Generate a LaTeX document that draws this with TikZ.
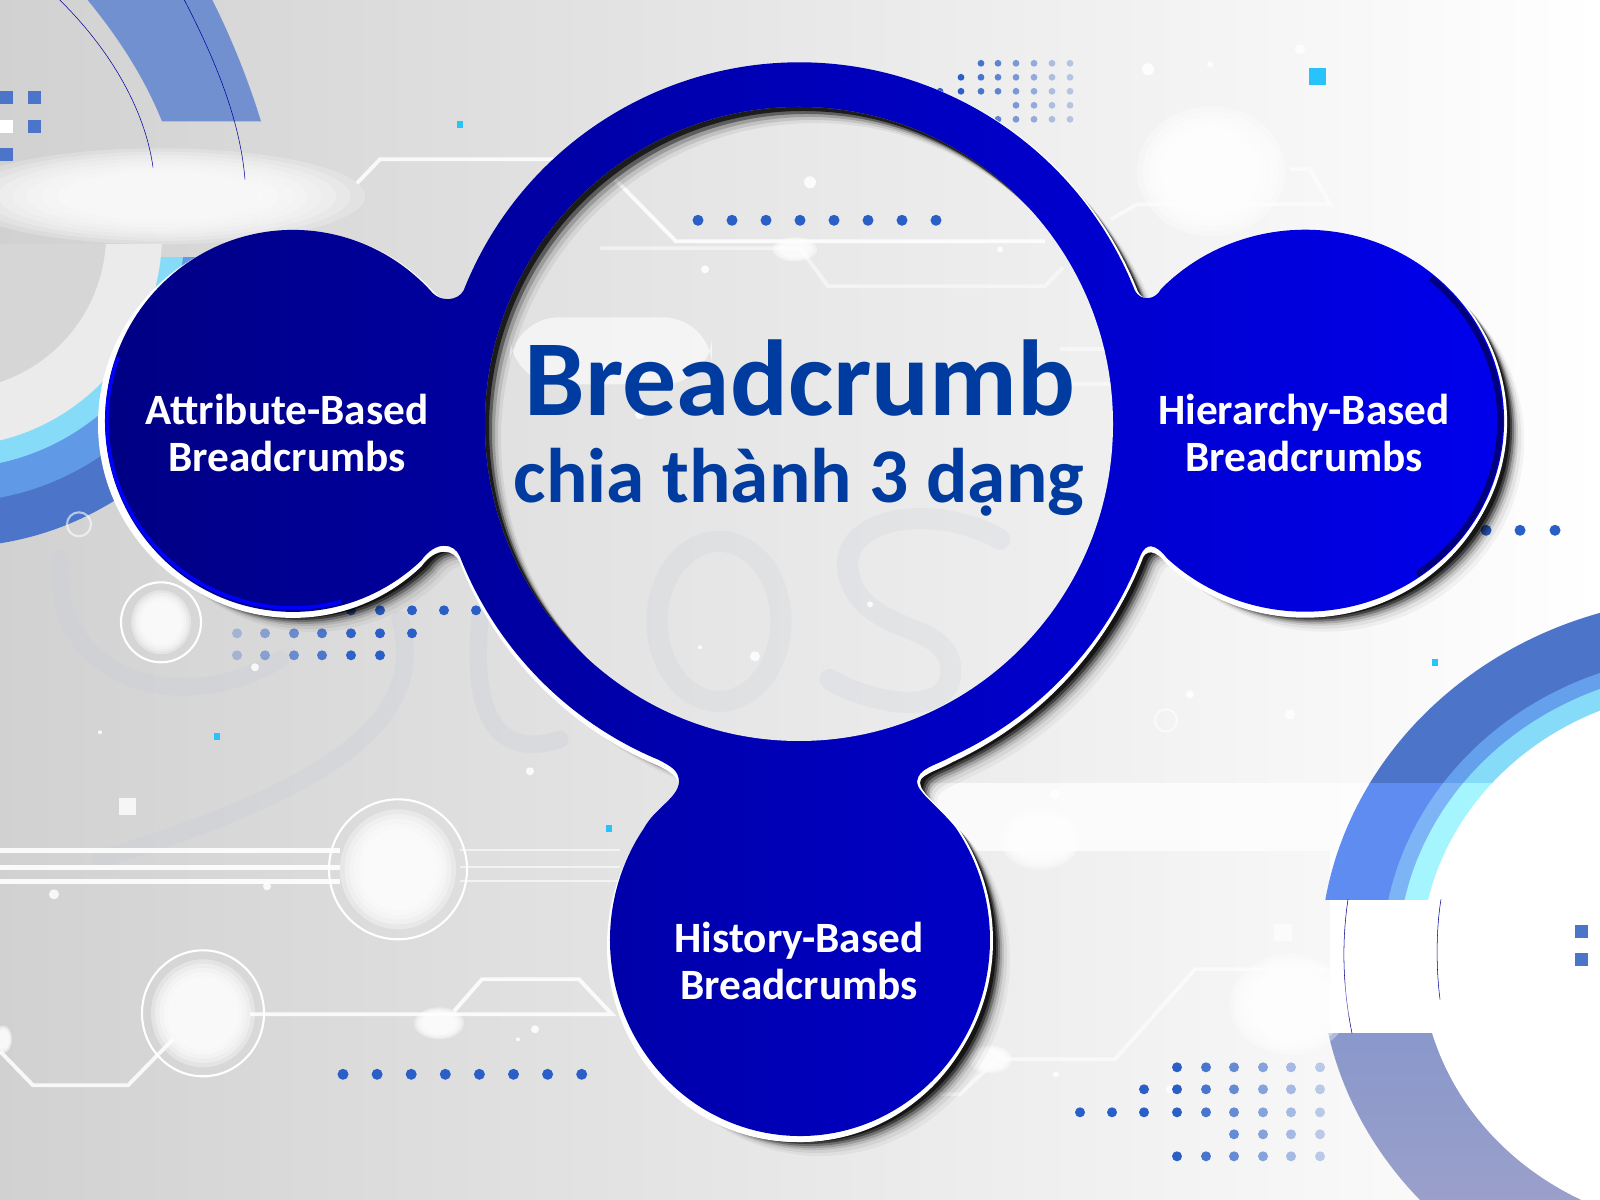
\documentclass[tikz,border=0pt]{standalone}
\usepackage{fontspec}
\setmainfont{Carlito}
\definecolor{dotblue}{RGB}{42,95,200}
\definecolor{titleblue}{RGB}{0,60,160}
\definecolor{cyansq}{RGB}{40,195,250}
\definecolor{bandblue}{RGB}{76,116,200}
\definecolor{bandmid}{RGB}{100,160,235}
\definecolor{bandcyan}{RGB}{134,220,248}
\definecolor{bandlite}{RGB}{95,140,240}
\definecolor{midlite}{RGB}{125,180,245}
\definecolor{cyanlite}{RGB}{165,245,255}
\definecolor{swirl}{RGB}{200,205,215}
\definecolor{rimdark}{RGB}{0,0,125}
\tikzset{
  circuit/.style={white,line width=1.1pt,opacity=.85},
  ringline/.style={white,line width=.6pt},
  label/.style={white,font=\bfseries\fontsize{12.3}{13.4}\selectfont,align=center},
  speck/.style={white,opacity=.85},
  thinarc/.style={draw=blue!60!black,line width=.15pt},
}
\def\blobpath{(463.6,909.5) arc[start angle=158.4,end angle=21.6,radius=361]
  .. controls (1140,899) and (1155,899) .. (1161,911)
  arc[start angle=136.4,end angle=-134,x radius=199,y radius=191]
  .. controls (1155,657) and (1146,657) .. (1140.7,645)
  arc[start angle=-21,end angle=-65.2,radius=366]
  .. controls (935,434) and (918,432) .. (917,418)
  .. controls (917,408) and (940,392) .. (955.8,372.1)
  arc[start angle=34.9,end angle=-214.9,x radius=190,y radius=196]
  .. controls (655,392) and (678,402) .. (679,418)
  .. controls (679,430) and (670,434) .. (659,440)
  arc[start angle=-112.6,end angle=-158.7,radius=364]
  .. controls (454,657) and (436,660) .. (421.2,639.4)
  arc[start angle=-47,end angle=-318,x radius=188,y radius=191]
  .. controls (441,898) and (458,899) .. cycle}
\begin{document}
\begin{tikzpicture}[x=0.01cm,y=0.01cm]
  \useasboundingbox (0,0) rectangle (1600,1200);
  \begin{scope}[y=-0.01cm,yshift=12cm]
    \shade[left color=black!18,middle color=black!11,right color=white] (0,0) rectangle (1600,1200);
    \fill[white,opacity=.75] (930,784) rectangle (1600,852);
    \fill[white] (1330,852) rectangle (1600,1034);
    % faint swirls
    \foreach \p in {{(60,560) .. controls (50,680) and (180,720) .. (280,660)},
        {(400,620) .. controls (430,720) and (330,790) .. (100,860)},
        {(480,620) .. controls (470,720) and (500,760) .. (560,740)}}
      \draw[swirl,line width=5pt,opacity=.3,line cap=round] \p;
    % rings top left
    \begin{scope}
      \clip (-100,258) rectangle (300,700);
      \fill[bandblue] (-50,235) circle (313);
      \fill[bandmid!85!bandblue] (-50,235) circle (268);
      \fill[bandcyan] (-50,235) circle (234);
    \end{scope}
    \begin{scope}
      \clip (-100,245) rectangle (300,700);
      \fill[white!92!black] (-50,235) circle (212);
      \fill[black!16] (-50,235) circle (156);
    \end{scope}
    \fill[bandblue!85!white,opacity=.9] (87,0) .. controls (120,40) and (145,80) .. (162,122)
      -- (261,122) .. controls (248,80) and (232,40) .. (212,0) -- cycle;
    \foreach \r in {1,.93,.86,.79,.72,.65,.58,.5}
      \fill[white,opacity=.22] (160,197) ellipse [x radius=205*\r,y radius=48*\r];
    \draw[thinarc] (59,0) .. controls (110,50) and (145,110) .. (153,168);
    \draw[thinarc] (184,0) .. controls (215,60) and (240,120) .. (245,180);
    % rings bottom right
    \begin{scope}
      \clip (1300,600) rectangle (1600,784);
      \fill[bandblue] (1715,960) ellipse [x radius=395,y radius=362];
      \fill[bandmid] (1715,960) ellipse [x radius=333,y radius=305];
      \fill[bandcyan] (1715,960) ellipse [x radius=317,y radius=290];
    \end{scope}
    \begin{scope}
      \clip (1300,784) rectangle (1600,900);
      \fill[bandlite] (1715,960) ellipse [x radius=395,y radius=362];
      \fill[midlite] (1715,960) ellipse [x radius=333,y radius=305];
      \fill[cyanlite] (1715,960) ellipse [x radius=317,y radius=290];
    \end{scope}
    \begin{scope}
      \clip (1300,1034) rectangle (1600,1200);
      \shade[top color=bandblue!90,bottom color=blue!40!black!35!white] (1715,960) ellipse [x radius=395,y radius=362];
    \end{scope}
    \fill[white] (1715,960) ellipse [x radius=294,y radius=270];
    \draw[thinarc] (1348,900) .. controls (1342,940) and (1342,985) .. (1352,1034);
    \draw[thinarc] (1441,900) .. controls (1436,930) and (1436,970) .. (1440,1000);
    % circuit lines
    \draw[circuit] (357,184) -- (380,160) -- (560,160);
    \draw[circuit,opacity=.6] (1111,220) -- (1137,205) -- (1330,205) -- (1310,170) -- (1290,170);
    \foreach \y in {851,868,882}
      \draw[white,line width=1.5pt,opacity=.9] (0,\y) -- (340,\y);
    \foreach \y in {851,868,882}
      \draw[white,line width=.5pt,opacity=.6] (460,\y) -- (620,\y);
    \draw[circuit] (250,1015) -- (612,1015) -- (579,980) -- (482,980) -- (454,1012);
    \draw[circuit] (0,1052) -- (33,1086) -- (128,1086) -- (173,1040);
    \draw[circuit,opacity=.6] (1000,1060) -- (1115,1060) -- (1195,970) -- (1340,970);
    \draw[circuit,opacity=.6] (1000,1057) -- (960,1095) -- (940,1095);
    % glows
    \foreach \cx/\cy/\ra/\rb in {398/870/58/60,203/1014/52/54,161/623/30/32,439/1024/25/16,1211/172/74/65,3/1040/9/14,990/1060/22/14,1040/840/40/30,1290/1005/60/50}
      \foreach \r in {1,.92,.84,.76,.68}
        \fill[white,opacity=.35] (\cx,\cy) ellipse [x radius=\ra*\r,y radius=\rb*\r];
    \draw[ringline] (398,870) ellipse [x radius=69,y radius=70];
    \draw[ringline] (203,1014) ellipse [x radius=61,y radius=63];
    \draw[ringline] (161,623) ellipse [x radius=40,y radius=40];
    \draw[ringline,opacity=.6] (79,525) circle (12);
    \draw[ringline,opacity=.6] (1166,721) circle (11);
    % specks
    \foreach \x/\y/\r in {54/895/5,267/887/4,100/733/2,530/772/4,255/668/4,535/1030/4,518/1040/2,1055/795/5,1148/70/6,1210/65/3,1300/50/5,1190/695/4,1290/715/5,1056/1075/3,1170/1090/4}
      \fill[speck] (\x,\y) circle (\r);
    \fill[white,opacity=.8] (119,799) rectangle (136,816);
    \fill[white,opacity=.6] (1274,925) rectangle (1292,942);
    % squares
    \foreach \x/\y in {0/92,28/92,28/121,0/149,1575/926,1575/954}
      \fill[bandblue] (\x,\y) rectangle ++(13,13);
    \fill[white] (0,121) rectangle (13,134);
    \fill[cyansq] (1309,69) rectangle (1326,86);
    \foreach \x/\y in {457/122,214/734,606/826,1432/660}
      \fill[cyansq] (\x,\y) rectangle ++(6,7);
    % dot rows
    \foreach \i in {0,...,7} \fill[dotblue] (343+34.1*\i,1075) circle (5.5);
    \foreach \x in {1486,1520,1555} \fill[dotblue] (\x,531) circle (5.5);
    % dot fields
    \foreach \y/\xs in {64/{981,998,1016,1034,1052,1070},78/{961,981,998,1016,1034,1052,1070},92/{940,961,981,998,1016,1034,1052,1070},106/{1016,1034,1052,1070},120/{998,1016,1034,1052,1070}}
      \foreach \x in \xs {
        \pgfmathsetmacro\op{max(.3,1-(\x-960)/140)}
        \fill[dotblue,opacity=\op] (\x,\y) circle (3.4);
      }
    \foreach \y/\xs in {611/{351,380,412,444,476},634/{237,265,294,322,351,380,412},656/{237,265,294,322,351,380}}
      \foreach \x in \xs {
        \pgfmathsetmacro\op{min(1,max(.3,.3+(\x-237)/170))}
        \fill[dotblue,opacity=\op] (\x,\y) circle (5);
      }
    \foreach \y/\xs in {1068/{1177,1206,1234,1263,1291,1320},1090/{1144,1177,1206,1234,1263,1291,1320},1113/{1080,1112,1144,1177,1206,1234,1263,1291,1320},1135/{1234,1263,1291,1320},1157/{1177,1206,1234,1263,1291,1320}}
      \foreach \x in \xs {
        \pgfmathsetmacro\op{min(1,max(.3,1-(\x-1177)/190))}
        \fill[dotblue,opacity=\op] (\x,\y) circle (5);
      }
  \end{scope}
  % shadow under the blob
  \foreach \d/\o in {20/.04,17/.06,14/.1,12/.16,10/.28,8/.45,6/.65}
    \fill[black,opacity=\o,shift={(\d,-\d)}] \blobpath;
  \fill[white,shift={(3,-1)}] \blobpath;
  \fill[white,shift={(0,-6)}] \blobpath;
  \fill[white] (289,776) ellipse [x radius=191,y radius=191];
  \fill[white] (797,254) ellipse [x radius=190,y radius=196];
  \shade[left color={rgb,255:red,0;green,0;blue,130},middle color={rgb,255:red,0;green,0;blue,190},right color={rgb,255:red,0;green,0;blue,238}] \blobpath;
  % rims
  \draw[blue,line width=1pt] (118.2,843) arc[start angle=160,end angle=285,x radius=186,y radius=187];
  \draw[rimdark,line width=1.6pt] (1430.4,922.2) arc[start angle=50,end angle=-55,x radius=195,y radius=187];
  % window of the ring
  \begin{scope}
    \clip (799,776) ellipse [x radius=314,y radius=317];
    \begin{scope}[y=-0.01cm,yshift=12cm]
      \shade[left color=black!12,middle color=black!9,right color=black!6] (480,100) rectangle (1120,750);
      \fill[white,rounded corners=14pt,opacity=.6] (510,318) rectangle (712,385);
      \draw[circuit] (615,180) -- (676,242) -- (1045,242);
      \draw[circuit,opacity=.5] (600,249) -- (800,249) -- (828,287) -- (1045,287) -- (1063,268);
      \foreach \y in {350,385}
        \draw[circuit,opacity=.5] (1060,\y) -- (1130,\y);
      \draw[swirl,line width=6pt,opacity=.22] (719,622) ellipse [x radius=62,y radius=80];
      \draw[swirl,line width=6pt,opacity=.22,line cap=round] (1000,540) .. controls (930,500) and (830,520) .. (850,580)
        .. controls (870,640) and (960,620) .. (950,680) .. controls (940,720) and (860,700) .. (830,680);
      \draw[swirl,line width=6pt,opacity=.22,line cap=round] (500,620) .. controls (500,700) and (560,740) .. (620,700);
      \foreach \r in {1,.85,.7}
        \fill[white,opacity=.45] (795,250) ellipse [x radius=22*\r,y radius=12*\r];
      \foreach \x/\y/\r in {810/183/6,705/270/4,640/415/5,755/657/5,700/648/2,870/605/3,1000/250/3}
        \fill[speck] (\x,\y) circle (\r);
      \foreach \i in {0,...,7} \fill[dotblue] (698+34*\i,221) circle (5.5);
    \end{scope}
    \foreach \d/\o in {16/.06,13/.1,10/.18,7/.4,4/.7}
      \fill[black,opacity=\o,even odd rule] (400,0) rectangle (1200,1200)
        (799+\d,776-\d) ellipse [x radius=314,y radius=317];
  \end{scope}
  \node[anchor=base,text=titleblue,font=\bfseries\fontsize{30.7}{30}\selectfont] (title) at (800,784) {Breadcrumb};
  \node[anchor=base,text=titleblue,font=\bfseries\fontsize{22}{24}\selectfont] (subtitle) at (799,697) {chia thành 3 dạng};
  \node[label] (attribute) at (287,767) {Attribute-Based\\Breadcrumbs};
  \node[label] (hierarchy) at (1304,767) {Hierarchy-Based\\Breadcrumbs};
  \node[label] (history) at (799,239) {History-Based\\Breadcrumbs};
\end{tikzpicture}
\end{document}
